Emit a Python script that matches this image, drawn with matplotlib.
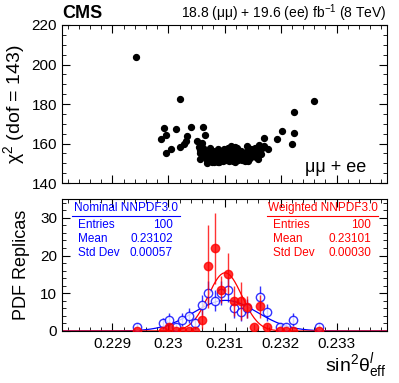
import numpy as np
import matplotlib
matplotlib.use("Agg")
import matplotlib.pyplot as plt
from matplotlib.ticker import MultipleLocator

plt.rcParams['font.family'] = ['Liberation Sans', 'DejaVu Sans']
plt.rcParams['mathtext.fontset'] = 'custom'
plt.rcParams['mathtext.rm'] = 'Liberation Sans'
plt.rcParams['mathtext.it'] = 'Liberation Sans:italic'

# top panel: chi2 vs sin2theta for each replica
scan_x = [0.22942, 0.23021, 0.23259, 0.23224, 0.23224, 0.23221, 0.23202, 0.23194,
          0.23171, 0.22986, 0.22992, 0.22996, 0.22996, 0.23004, 0.23014, 0.23021,
          0.23027, 0.23031, 0.23033, 0.23040, 0.23061, 0.23066, 0.23051, 0.23054,
          0.23059, 0.23062, 0.23056, 0.23056,
          0.23177, 0.23162, 0.23167, 0.23161, 0.23156, 0.23140, 0.23122, 0.23143,
          0.23137, 0.23131, 0.23149, 0.23134, 0.23140, 0.23151, 0.23158, 0.23107,
          0.23074, 0.23071, 0.23083, 0.23092, 0.23104, 0.23113, 0.23119, 0.23122,
          0.23098, 0.23089, 0.23077, 0.23107, 0.23056,
          0.23068, 0.23072, 0.23078, 0.23080, 0.23085, 0.23087, 0.23090, 0.23093,
          0.23095, 0.23097, 0.23100, 0.23102, 0.23105, 0.23108, 0.23110, 0.23112,
          0.23115, 0.23117, 0.23120, 0.23124, 0.23126, 0.23128, 0.23130, 0.23133,
          0.23136, 0.23138, 0.23145, 0.23147, 0.23152, 0.23154, 0.23160, 0.23165,
          0.23170, 0.23063, 0.23066, 0.23075, 0.23081, 0.23099, 0.23111, 0.23089,
          0.23068, 0.23118, 0.23142, 0.23106]
scan_chi2 = [204.0, 182.5, 181.4, 176.1, 165.5, 159.6, 166.3, 162.4,
             162.9, 162.4, 167.7, 164.3, 155.0, 157.1, 167.2, 158.4,
             159.6, 161.4, 163.8, 168.5, 168.2, 164.3, 161.4, 158.4,
             160.1, 157.6, 155.3, 156.7,
             157.1, 159.2, 157.6, 155.9, 153.3, 158.7, 157.9, 155.9,
             154.2, 151.6, 154.2, 154.2, 153.3, 155.9, 156.7, 156.7,
             155.0, 152.5, 154.2, 155.9, 156.7, 155.0, 158.4, 152.5,
             151.6, 150.8, 150.8, 152.5, 152.4,
             151.5, 153.8, 152.0, 156.0, 151.2, 153.0, 150.5, 152.8,
             154.5, 150.9, 153.5, 151.5, 154.8, 150.9, 152.2, 156.0,
             151.2, 153.6, 155.2, 151.8, 154.0, 152.6, 156.2, 152.9,
             151.3, 155.8, 152.6, 157.0, 153.7, 157.8, 152.3, 154.6,
             158.5, 153.9, 155.8, 157.5, 150.7, 157.2, 158.9, 157.0,
             150.2, 150.4, 151.0, 157.8]

# bottom panel: histogram of replicas
bin_centers = [0.229434, 0.229898, 0.230014, 0.230130, 0.230246, 0.230362,
               0.230478, 0.230594, 0.230710, 0.230826, 0.230942, 0.231058,
               0.231174, 0.231290, 0.231406, 0.231522, 0.231638, 0.231754,
               0.231986, 0.232102, 0.232218, 0.232682]
nominal = [1, 2, 3, 1, 3, 4, 2, 7, 10, 8, 10, 11, 6, 5, 6, 0, 9, 5, 1, 1, 3, 1]
weighted = [0, 0, 1, 0, 0, 0, 0, 3, 17.2, 21.9, 11, 15.2, 8, 8, 6.4, 1, 6.5, 1, 0, 0, 0, 0]
weighted_err = [0, 0, 1, 0, 0, 0, 0, 2.5, 11, 9.5, 3.5, 5.5, 4, 5, 3, 0.8, 3, 0.8, 0, 0, 0, 0]

nom_mean, nom_std = 0.23102, 0.00057
wgt_mean, wgt_std = 0.23101, 0.00030
n_entries = 100
bin_width = 0.000116
xlo, xhi = 0.2281, 0.2339

blue = '#0000ff'
red = '#ff0000'

fig = plt.figure(figsize=(3.99, 3.83), dpi=100)
ax1 = fig.add_axes([62/399, 1-183/383, 325/399, 158/383])
ax2 = fig.add_axes([62/399, 1-331/383, 325/399, 132/383])


def style(ax):
    ax.tick_params(which='both', direction='in', top=True, right=True, labelsize=11)
    ax.tick_params(which='major', length=6)
    ax.tick_params(which='minor', length=3)
    ax.xaxis.set_major_locator(MultipleLocator(0.001))
    ax.xaxis.set_minor_locator(MultipleLocator(0.0002))
    for s in ax.spines.values():
        s.set_linewidth(0.8)


# top
ax1.scatter(scan_x, scan_chi2, s=18, color='black', zorder=3)
ax1.set_xlim(xlo, xhi)
ax1.set_ylim(140, 220)
style(ax1)
ax1.yaxis.set_major_locator(MultipleLocator(20))
ax1.yaxis.set_minor_locator(MultipleLocator(5))
ax1.set_xticklabels([])
ax1.set_ylabel('χ$^{2}$ (dof = 143)', fontsize=14, labelpad=3)
ax1.text(0.935, 0.1, 'μμ + ee', transform=ax1.transAxes, ha='right', va='center',
         fontsize=13)
fig.text(62/399, 1-13/383, 'CMS', fontsize=13, fontweight='bold', va='center', ha='left')
fig.text(387/399, 1-13/383, '18.8 (μμ) + 19.6 (ee) fb$^{-1}$ (8 TeV)', fontsize=10,
         va='center', ha='right')

# bottom
xs = np.linspace(xlo, xhi, 400)
nom_amp = n_entries * bin_width / (nom_std * np.sqrt(2*np.pi))
wgt_amp = n_entries * bin_width / (wgt_std * np.sqrt(2*np.pi))
ax2.plot(xs, nom_amp*np.exp(-0.5*((xs-nom_mean)/nom_std)**2), color=blue, lw=0.9, zorder=2)
ax2.plot(xs, wgt_amp*np.exp(-0.5*((xs-wgt_mean)/wgt_std)**2), color=red, lw=0.9, zorder=2)

bc = np.array(bin_centers)
nom = np.array(nominal, dtype=float)
has = nom > 0
ax2.errorbar(bc[has], nom[has], yerr=np.sqrt(nom[has]), fmt='o', mfc='white', mec=blue,
             ecolor=blue, elinewidth=1.0, ms=6, mew=1.0, alpha=0.8, zorder=3)
ax2.errorbar(bc, weighted, yerr=weighted_err, fmt='o', color=red, ecolor=red,
             elinewidth=1.0, ms=6, alpha=0.8, zorder=4)
ax2.set_xlim(xlo, xhi)
ax2.set_ylim(0, 35)
style(ax2)
ax2.yaxis.set_major_locator(MultipleLocator(10))
ax2.yaxis.set_minor_locator(MultipleLocator(2))
ax2.set_xticks([0.229, 0.230, 0.231, 0.232, 0.233])
ax2.set_xticklabels(['0.229', '0.23', '0.231', '0.232', '0.233'])
ax2.tick_params(axis='x', pad=4)
ax2.set_ylabel('PDF Replicas', fontsize=13, labelpad=7)
fig.text(387/399, 1-366/383, 'sin$^{2}$θ$^{l}_{\\mathrm{eff}}$', fontsize=14,
         ha='right', va='center')

# stat boxes
def statbox(x0, x1, title, mean, std, color):
    y_line = 1 - 215.5/383
    fig.add_artist(plt.Line2D([x0/399, x1/399], [y_line, y_line], color=color, lw=0.8))
    fig.text((x0+x1)/2/399, 1-211/383, title, color=color, fontsize=8.5, ha='center',
             va='baseline')
    rows = [('Entries', str(n_entries)), ('Mean', '%.5f' % mean), ('Std Dev', '%.5f' % std)]
    for i, (k, v) in enumerate(rows):
        y = 1 - (224.5 + 14.5*i)/383
        fig.text((x0+6)/399, y, k, color=color, fontsize=8.5, ha='left', va='center')
        fig.text((x1-7)/399, y, v, color=color, fontsize=8.5, ha='right', va='center')


statbox(72, 180, 'Nominal NNPDF3.0', nom_mean, nom_std, blue)
statbox(267, 378, 'Weighted NNPDF3.0', wgt_mean, wgt_std, red)

fig.savefig('out.png', dpi=100)
